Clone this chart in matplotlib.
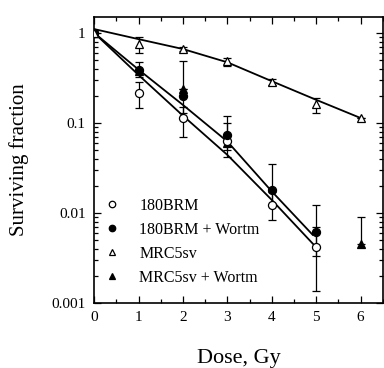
import numpy as np
import matplotlib
matplotlib.use('Agg')
import matplotlib.pyplot as plt
from matplotlib.ticker import LogLocator, NullFormatter, FixedLocator, MultipleLocator

plt.rcParams['font.family'] = ['Liberation Serif', 'DejaVu Serif']

nan = np.nan

# 180BRM
dose_brm = [0, 1, 2, 3, 4, 5]
sf_brm = [1.0, 0.217, 0.112, 0.062, 0.0123, 0.0042]
lo_brm = [nan, 0.147, 0.070, nan, 0.0083, 0.00136]
hi_brm = [nan, 0.286, 0.150, nan, 0.0170, 0.0123]

# 180BRM + Wortm
dose_brmw = [0, 1, 2, 3, 4, 5]
sf_brmw = [1.0, 0.39, 0.196, 0.0736, 0.0178, 0.0062]
lo_brmw = [nan, 0.32, 0.13, 0.050, 0.012, 0.0033]
hi_brmw = [nan, 0.47, 0.48, 0.12, 0.035, 0.0069]

# MRC5sv
dose_mrc = [0, 1, 2, 3, 4, 5, 6]
sf_mrc = [1.0, 0.75, 0.66, 0.48, 0.283, 0.16, 0.114]
lo_mrc = [nan, 0.60, 0.62, 0.43, 0.26, 0.13, nan]
hi_mrc = [nan, 0.90, 0.70, 0.53, 0.31, 0.19, nan]

# MRC5sv + Wortm
dose_mrcw = [0, 1, 2, 3, 6]
sf_mrcw = [1.0, 0.38, 0.24, 0.060, 0.0045]
lo_mrcw = [nan, nan, nan, 0.042, nan]
hi_mrcw = [nan, nan, nan, 0.10, 0.0089]

# fitted curves
fit_mrc_x = [0, 1, 2, 3, 4, 5, 6]
fit_mrc_y = [1.10, 0.85, 0.66, 0.47, 0.29, 0.18, 0.113]
fit_brmw_x = [0, 1, 2, 3, 4, 4.92]
fit_brmw_y = [1.0, 0.39, 0.158, 0.062, 0.0173, 0.0057]
fit_brm_x = [0, 1, 2, 3, 4, 4.95]
fit_brm_y = [1.0, 0.34, 0.12, 0.044, 0.0139, 0.0044]

fig = plt.figure(figsize=(3.84, 3.68), dpi=100)
ax = fig.add_axes([0.245, 0.177, 0.752, 0.777])

for fx, fy in [(fit_mrc_x, fit_mrc_y), (fit_brmw_x, fit_brmw_y), (fit_brm_x, fit_brm_y)]:
    ax.plot(fx, fy, color='black', lw=1.3, zorder=2)


def plot_series(d, s, lo, hi, marker, filled, label):
    d = np.array(d, float)
    s = np.array(s, float)
    lo = np.array(lo, float)
    hi = np.array(hi, float)
    err_lo = np.where(np.isnan(lo), 0, s - np.nan_to_num(lo, nan=0))
    err_hi = np.where(np.isnan(hi), 0, np.nan_to_num(hi, nan=0) - s)
    ax.errorbar(d, s, yerr=[err_lo, err_hi], fmt='none', ecolor='black',
                elinewidth=0.9, capsize=3, capthick=0.9, zorder=3)
    ax.plot(d, s, linestyle='none', marker=marker, markersize=5.8,
            markerfacecolor='black' if filled else 'white',
            markeredgecolor='black', markeredgewidth=0.9, label=label, zorder=4)


plot_series(dose_mrcw, sf_mrcw, lo_mrcw, hi_mrcw, '^', True, 'MRC5sv + Wortm')
plot_series(dose_brm, sf_brm, lo_brm, hi_brm, 'o', False, '180BRM')
plot_series(dose_brmw, sf_brmw, lo_brmw, hi_brmw, 'o', True, '180BRM + Wortm')
plot_series(dose_mrc, sf_mrc, lo_mrc, hi_mrc, '^', False, 'MRC5sv')

ax.set_yscale('log')
ax.set_ylim(0.001, 1.5)
ax.set_xlim(0, 6.5)
ax.xaxis.set_major_locator(FixedLocator([0, 1, 2, 3, 4, 5, 6]))
ax.xaxis.set_minor_locator(MultipleLocator(0.5))
ax.yaxis.set_major_locator(FixedLocator([0.001, 0.01, 0.1, 1]))
ax.yaxis.set_minor_locator(LogLocator(base=10, subs=np.arange(2, 10)))
ax.yaxis.set_minor_formatter(NullFormatter())
ax.set_yticklabels(['0.001', '0.01', '0.1', '1'])
ax.tick_params(which='both', direction='in', top=True, right=True, labelsize=11, width=0.9)
ax.tick_params(which='major', length=5, pad=6)
ax.tick_params(which='minor', length=3)
for sp in ax.spines.values():
    sp.set_linewidth(1.2)

ax.set_xlabel('Dose, Gy', fontsize=16, labelpad=18)
ax.set_ylabel('Surviving fraction', fontsize=15, labelpad=16)

h, l = ax.get_legend_handles_labels()
order = ['180BRM', '180BRM + Wortm', 'MRC5sv', 'MRC5sv + Wortm']
hh = [h[l.index(o)] for o in order]
ax.legend(hh, order, loc='lower left', bbox_to_anchor=(-0.02, 0.01), frameon=False,
          fontsize=11.5, markerscale=0.8, handlelength=1.2, handletextpad=1.1,
          labelspacing=0.5)

fig.savefig('out.png', dpi=100)
